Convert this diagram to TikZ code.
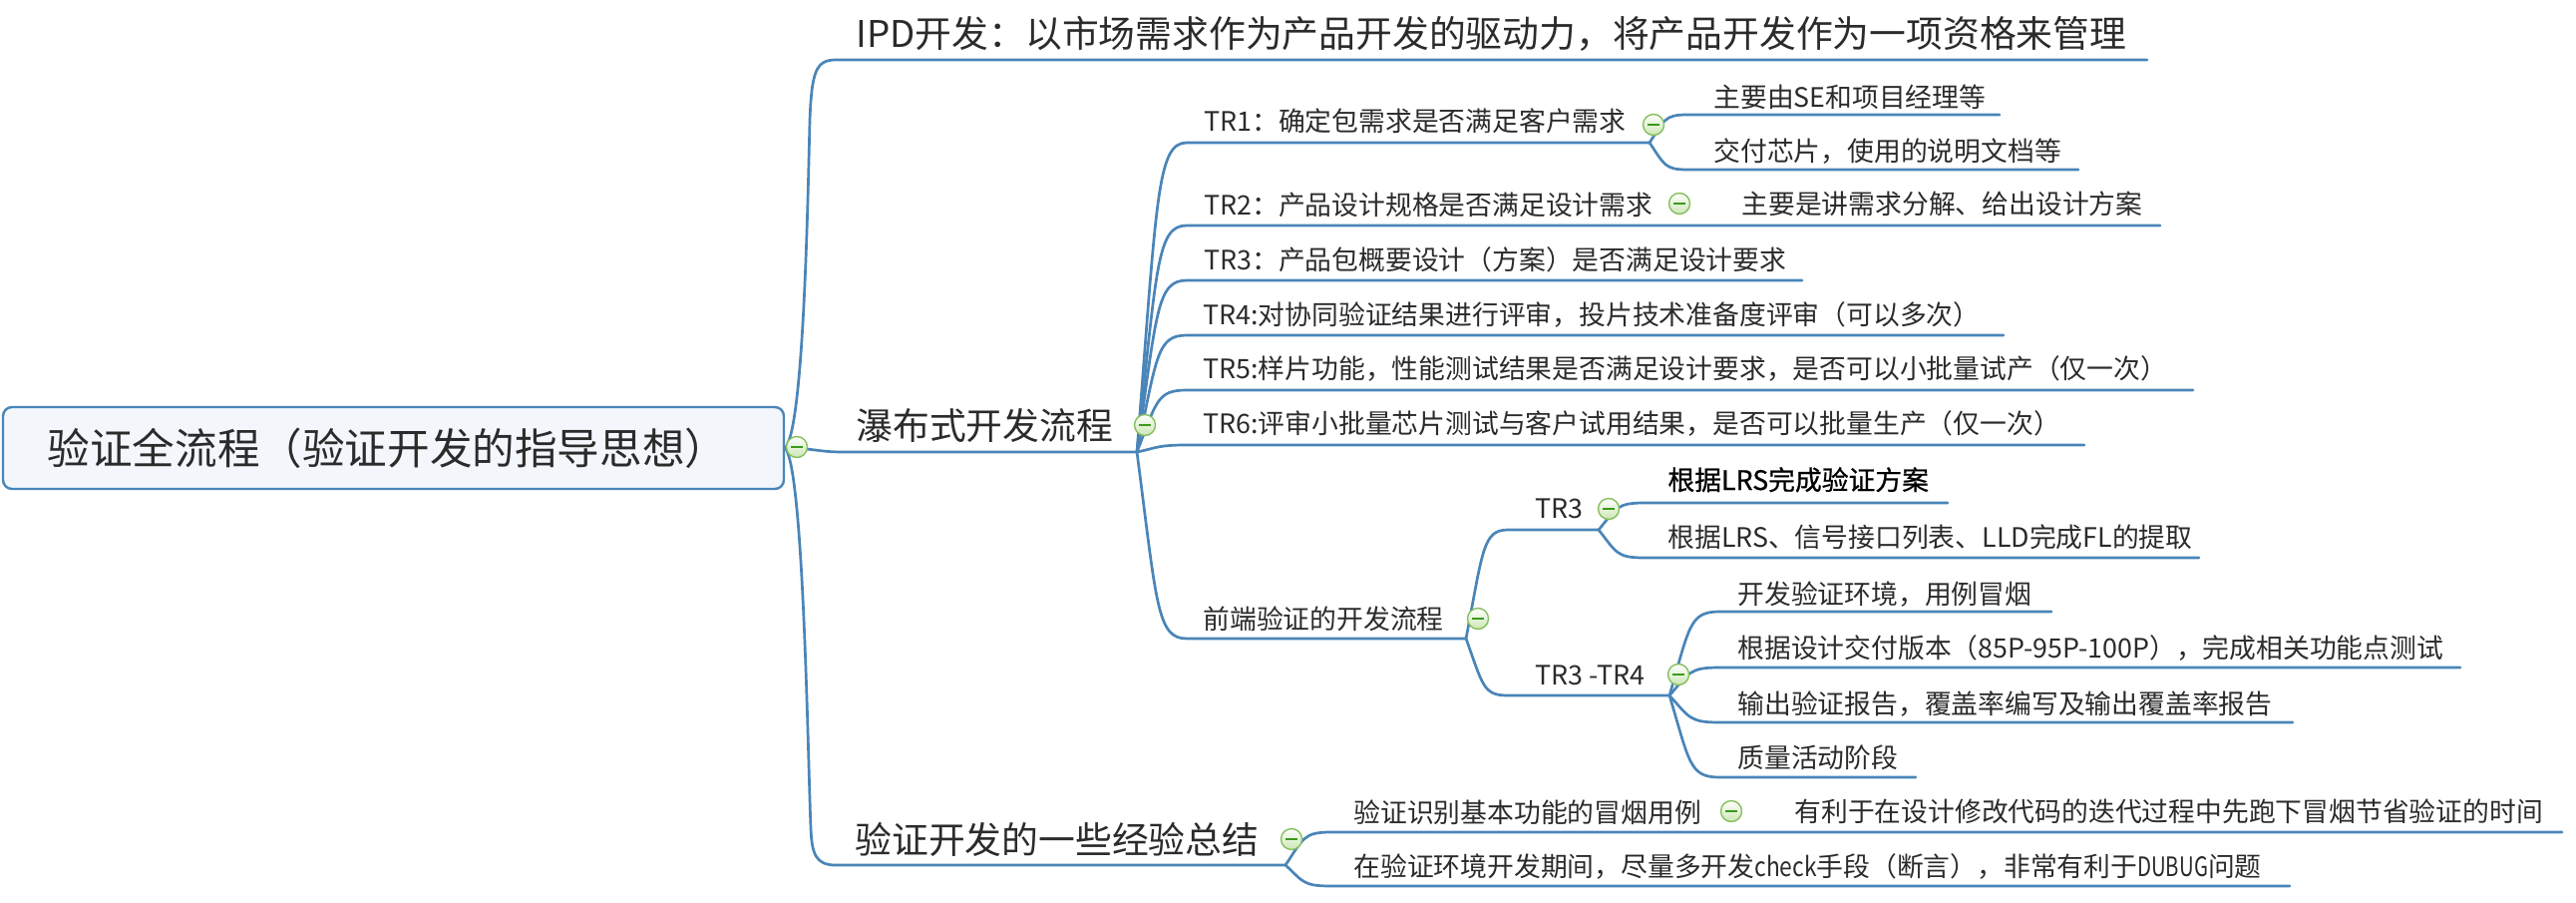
\documentclass[tikz,border=0pt]{standalone}
\usepackage{fontspec}
\setmainfont{Noto Sans CJK SC}
\newfontfamily\boldsans[FakeBold=0.8]{Noto Sans CJK SC}
\newcommand\fsroot{\fontsize{21.3}{25}\selectfont}
\newcommand\fsone{\fontsize{18.4}{22}\selectfont}
\newcommand\fstwo{\fontsize{13.4}{16}\selectfont}
\definecolor{lineblue}{HTML}{4A85B8}
\definecolor{txt}{HTML}{2B2B2B}
\definecolor{btnedge}{HTML}{86BF5E}
\definecolor{btnfill}{HTML}{CBE7B4}
\definecolor{btnminus}{HTML}{3C9A1C}
\definecolor{rootfill}{HTML}{F3F7FC}
\tikzset{
  conn/.style={draw=lineblue, line width=1.35pt, line cap=round},
  rootbox/.style={draw=lineblue, fill=rootfill, line width=1.2pt, rounded corners=4.5pt,
    minimum width=391.5pt, minimum height=41pt, inner sep=0pt, text=txt, font=\fsroot},
  topone/.style={anchor=base west, inner sep=0pt, text=txt, font=\fsone},
  toptwo/.style={anchor=base west, inner sep=0pt, text=txt, font=\fstwo},
  btn/.style={circle, draw=btnedge, line width=0.7pt, minimum size=10.5pt, inner sep=0pt,
    top color=white, bottom color=btnfill,
    path picture={\draw[btnminus, line width=0.8pt]
      ([xshift=-3pt]path picture bounding box.center) -- ([xshift=3pt]path picture bounding box.center);}}
}
\begin{document}
\begin{tikzpicture}[x=0.5pt, y=-0.5pt]
\useasboundingbox (0,0) rectangle (2583,904);

% ---------- root ----------
\node[rootbox] (root) at (394.5,449) {验证全流程（验证开发的指导思想）\hspace*{6pt}};

% ---------- coordinates of underline ends ----------
\coordinate (ipdS) at (838,60);   \coordinate (ipdE) at (2153,60);
\coordinate (wfS) at (845,453);   \coordinate (wfO) at (1140,453);
\coordinate (jyS) at (838,867);   \coordinate (jyO) at (1289,867);

\coordinate (tr1S) at (1190,143); \coordinate (tr1O) at (1654,143);
\coordinate (tr2S) at (1190,226); \coordinate (tr2E) at (2166,226);
\coordinate (tr3S) at (1190,281); \coordinate (tr3E) at (1807,281);
\coordinate (tr4S) at (1190,336); \coordinate (tr4E) at (2009,336);
\coordinate (tr5S) at (1190,391); \coordinate (tr5E) at (2199,391);
\coordinate (tr6S) at (1190,446); \coordinate (tr6E) at (2090,446);
\coordinate (qdS) at (1190,640);  \coordinate (qdO) at (1470,640);

\coordinate (a1S) at (1692,115);  \coordinate (a1E) at (2005,115);
\coordinate (a2S) at (1692,170);  \coordinate (a2E) at (2084,170);

\coordinate (bS) at (1512,531);   \coordinate (bO) at (1603,531);
\coordinate (cS) at (1512,697);   \coordinate (cO) at (1674,697);

\coordinate (b1S) at (1649,504);  \coordinate (b1E) at (1953,504);
\coordinate (b2S) at (1649,559);  \coordinate (b2E) at (2205,559);

\coordinate (c1S) at (1724,613);  \coordinate (c1E) at (2057,613);
\coordinate (c2S) at (1724,669);  \coordinate (c2E) at (2467,669);
\coordinate (c3S) at (1724,724);  \coordinate (c3E) at (2299,724);
\coordinate (c4S) at (1724,779);  \coordinate (c4E) at (1921,779);

\coordinate (d1S) at (1335,834);  \coordinate (d1E) at (2569,834);
\coordinate (d2S) at (1335,888);  \coordinate (d2E) at (2296,888);

% ---------- connectors ----------
\draw[conn] (root.east) .. controls (806,430) and (810,200) .. (812,120)
  .. controls (814,72) and (818,60) .. (ipdS) -- (ipdE);
\draw[conn] (root.east) .. controls (815,449) and (820,453) .. (wfS) -- (wfO);
\draw[conn] (root.east) .. controls (806,470) and (810,760) .. (813,830)
  .. controls (814,856) and (818,867) .. (jyS) -- (jyO);

\draw[conn] (wfO) .. controls (1160,199) and (1160,143) .. (tr1S) -- (tr1O);
\draw[conn] (wfO) .. controls (1160,267) and (1160,226) .. (tr2S) -- (tr2E);
\draw[conn] (wfO) .. controls (1160,312) and (1160,281) .. (tr3S) -- (tr3E);
\draw[conn] (wfO) .. controls (1160,357) and (1160,336) .. (tr4S) -- (tr4E);
\draw[conn] (wfO) .. controls (1160,402) and (1160,391) .. (tr5S) -- (tr5E);
\draw[conn] (wfO) .. controls (1160,449) and (1160,446) .. (tr6S) -- (tr6E);
\draw[conn] (wfO) .. controls (1160,606) and (1160,640) .. (qdS) -- (qdO);

\draw[conn] (tr1O) .. controls (1669,120) and (1669,115) .. (a1S) -- (a1E);
\draw[conn] (tr1O) .. controls (1669,165) and (1669,170) .. (a2S) -- (a2E);

\draw[conn] (qdO) .. controls (1487,551) and (1487,531) .. (bS) -- (bO);
\draw[conn] (qdO) .. controls (1487,687) and (1487,697) .. (cS) -- (cO);

\draw[conn] (bO) .. controls (1621,509) and (1621,504) .. (b1S) -- (b1E);
\draw[conn] (bO) .. controls (1621,554) and (1621,559) .. (b2S) -- (b2E);

\draw[conn] (cO) .. controls (1694,628) and (1694,613) .. (c1S) -- (c1E);
\draw[conn] (cO) .. controls (1694,674) and (1694,669) .. (c2S) -- (c2E);
\draw[conn] (cO) .. controls (1694,719) and (1694,724) .. (c3S) -- (c3E);
\draw[conn] (cO) .. controls (1694,764) and (1694,779) .. (c4S) -- (c4E);

\draw[conn] (jyO) .. controls (1307,840) and (1307,834) .. (d1S) -- (d1E);
\draw[conn] (jyO) .. controls (1307,884) and (1307,888) .. (d2S) -- (d2E);

% ---------- topics ----------
\node[topone] (ipd) at (858,48) {IPD开发：以市场需求作为产品开发的驱动力，将产品开发作为一项资格来管理};
\node[topone] (wf) at (858,440) {瀑布式开发流程};
\node[topone] (jy) at (857,855) {验证开发的一些经验总结};

\node[toptwo] (tr1) at (1207,132) {TR1：确定包需求是否满足客户需求};
\node[toptwo] (tr2) at (1207,215) {TR2：产品设计规格是否满足设计需求};
\node[toptwo] (tr3) at (1207,270) {TR3：产品包概要设计（方案）是否满足设计要求};
\node[toptwo] (tr4) at (1206,325) {TR4:对协同验证结果进行评审，投片技术准备度评审（可以多次）};
\node[toptwo] (tr5) at (1206,379) {TR5:样片功能，性能测试结果是否满足设计要求，是否可以小批量试产（仅一次）};
\node[toptwo] (tr6) at (1206,434) {TR6:评审小批量芯片测试与客户试用结果，是否可以批量生产（仅一次）};
\node[toptwo] (qd) at (1206,630) {前端验证的开发流程};

\node[toptwo] (a1) at (1718,107) {主要由SE和项目经理等};
\node[toptwo] (a2) at (1718,162) {交付芯片，使用的说明文档等};
\node[toptwo] (a3) at (1746,214) {主要是讲需求分解、给出设计方案};

\node[toptwo] (b) at (1539,519) {TR3};
\node[toptwo] (c) at (1539,686) {TR3 -TR4};

\node[toptwo, text=black, font=\fstwo\boldsans] (b1) at (1672,491) {根据LRS完成验证方案};
\node[toptwo] (b2) at (1672,548) {根据LRS、信号接口列表、LLD完成FL的提取};

\node[toptwo] (c1) at (1742,605) {开发验证环境，用例冒烟};
\node[toptwo] (c2) at (1742,659) {根据设计交付版本（85P-95P-100P），完成相关功能点测试};
\node[toptwo] (c3) at (1742,715) {输出验证报告，覆盖率编写及输出覆盖率报告};
\node[toptwo] (c4) at (1742,769) {质量活动阶段};

\node[toptwo] (d1) at (1357,824) {验证识别基本功能的冒烟用例};
\node[toptwo] (d1a) at (1799,823) {有利于在设计修改代码的迭代过程中先跑下冒烟节省验证的时间};
\node[toptwo] (d2) at (1357,878) {在验证环境开发期间，尽量多开发\scalebox{0.85}[1]{check}手段（断言），非常有利于\scalebox{0.76}[1]{DUBUG}问题};

% ---------- collapse buttons ----------
\node[btn] (btnroot) at (799,448) {};
\node[btn] (btnwf) at (1148,426) {};
\node[btn] (btntr1) at (1658,125) {};
\node[btn] (btntr2) at (1684,204) {};
\node[btn] (btnqd) at (1482,620) {};
\node[btn] (btnb) at (1613,510) {};
\node[btn] (btnc) at (1683,676) {};
\node[btn] (btnjy) at (1295,841) {};
\node[btn] (btnd1) at (1736,813) {};
\end{tikzpicture}
\end{document}
